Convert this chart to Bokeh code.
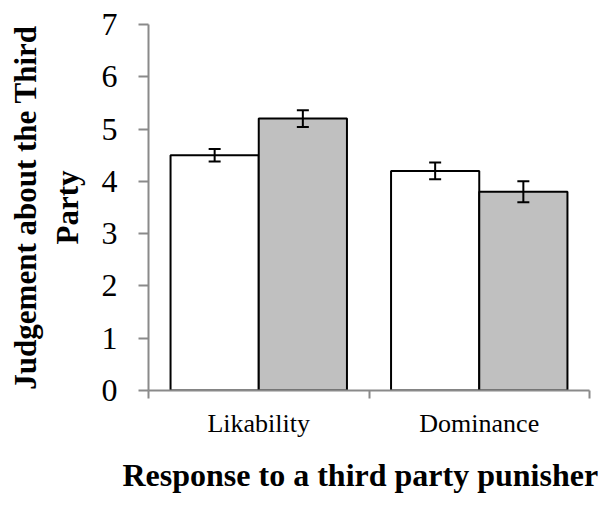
from bokeh.plotting import figure
from bokeh.models import ColumnDataSource, FixedTicker, Whisker, TeeHead, Range1d, Title
from bokeh.embed import file_html
from bokeh.resources import INLINE

# Mean judgements per response type, two conditions each
categories = ["Likability", "Dominance"]
cond_a = [4.5, 4.2]      # white bars
cond_b = [5.2, 3.8]      # grey bars
err_a = [0.12, 0.16]
err_b = [0.16, 0.20]
y_ticks = [0, 1, 2, 3, 4, 5, 6, 7]

SERIF = "Liberation Serif"
AXIS_GREY = "#8a8a8a"
BAR_W = 0.4

centers = [i + 0.5 for i in range(len(categories))]

src_a = ColumnDataSource(dict(
    x=[c - BAR_W / 2 for c in centers], top=cond_a,
    lower=[v - e for v, e in zip(cond_a, err_a)],
    upper=[v + e for v, e in zip(cond_a, err_a)],
))
src_b = ColumnDataSource(dict(
    x=[c + BAR_W / 2 for c in centers], top=cond_b,
    lower=[v - e for v, e in zip(cond_b, err_b)],
    upper=[v + e for v, e in zip(cond_b, err_b)],
))

p = figure(width=606, height=509, output_backend="svg", toolbar_location=None,
           x_range=Range1d(0, len(categories)), y_range=Range1d(0, 7),
           min_border_left=148, min_border_right=17, min_border_top=24,
           min_border_bottom=119)
p.outline_line_color = None
p.xgrid.visible = False
p.ygrid.visible = False
p.background_fill_color = "white"
p.border_fill_color = "white"

p.vbar(x="x", top="top", bottom=0, width=BAR_W, source=src_a,
       fill_color="white", line_color="black", line_width=2)
p.vbar(x="x", top="top", bottom=0, width=BAR_W, source=src_b,
       fill_color="#c0c0c0", line_color="black", line_width=2)

# error bars drawn over the bars
for src in (src_a, src_b):
    w = Whisker(base="x", lower="lower", upper="upper", source=src,
                level="overlay", line_color="black", line_width=2,
                upper_head=TeeHead(size=12, line_color="black", line_width=2),
                lower_head=TeeHead(size=12, line_color="black", line_width=2))
    p.add_layout(w)

# y axis
ya = p.yaxis[0]
ya.ticker = FixedTicker(ticks=y_ticks)
ya.axis_line_color = AXIS_GREY
ya.axis_line_width = 2
ya.major_tick_line_color = AXIS_GREY
ya.major_tick_line_width = 2
ya.major_tick_out = 10
ya.major_tick_in = 0
ya.minor_tick_line_color = None
ya.major_label_text_font = SERIF
ya.major_label_text_font_size = "32px"
ya.major_label_text_color = "black"
ya.major_label_standoff = 21
ya.axis_label = "Judgement about the Third\nParty"
ya.axis_label_text_font = SERIF
ya.axis_label_text_font_style = "bold"
ya.axis_label_text_font_size = "31px"
ya.axis_label_text_color = "black"
ya.axis_label_standoff = 14

# x axis: category names centred, tick marks at group boundaries
xa = p.xaxis[0]
xa.ticker = FixedTicker(ticks=centers, minor_ticks=list(range(len(categories) + 1)))
xa.major_label_overrides = {c: name for c, name in zip(centers, categories)}
xa.axis_line_color = AXIS_GREY
xa.axis_line_width = 2
xa.major_tick_line_color = None
xa.major_tick_out = 8
xa.major_tick_in = 0
xa.minor_tick_line_color = AXIS_GREY
xa.minor_tick_line_width = 2
xa.minor_tick_out = 8
xa.minor_tick_in = 0
xa.major_label_text_font = SERIF
xa.major_label_text_font_size = "26px"
xa.major_label_text_color = "black"
xa.major_label_standoff = 10

# x-axis title, set slightly left of the plot centre
x_title = Title(text="Response to a third party punisher", align="left", offset=-26,
                text_font=SERIF, text_font_style="bold", text_font_size="32px",
                text_color="black", standoff=28)
p.add_layout(x_title, "below")

open("out.html", "w").write(file_html(p, INLINE))
